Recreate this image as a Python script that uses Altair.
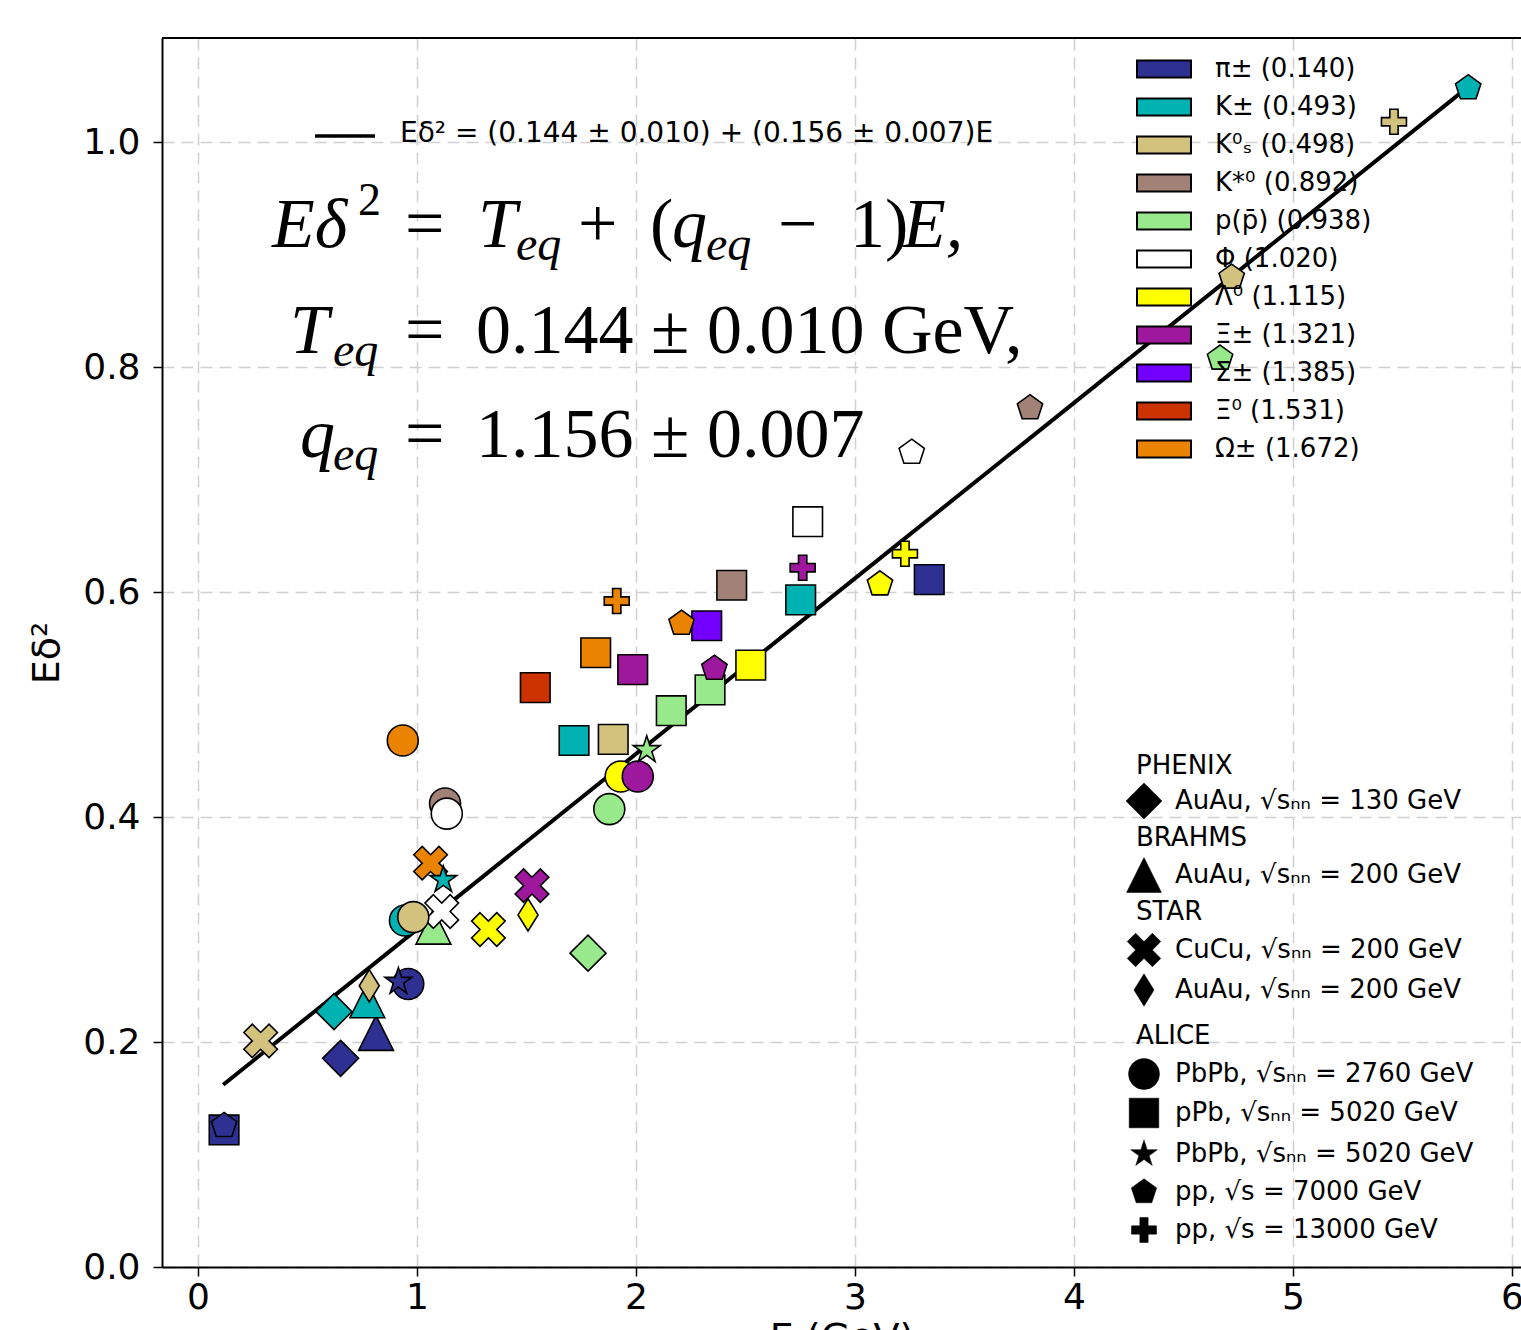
import math
import altair as alt
import pandas as pd

# ---------------- categories ----------------
particle_labels = ["π± (0.140)", "K± (0.493)", "K⁰ₛ (0.498)", "K*⁰ (0.892)",
                   "p(p̄) (0.938)", "Φ (1.020)", "Λ⁰ (1.115)", "Ξ± (1.321)",
                   "Σ± (1.385)", "Ξ⁰ (1.531)", "Ω± (1.672)"]
particle_colors = ["#2e3192", "#00b2b2", "#d2c27e", "#a28276", "#98e98b", "#ffffff",
                   "#ffff00", "#9e189e", "#7300ff", "#cc3300", "#e98300"]
PI, KPM, K0S, KST, PRO, PHI, LAM, XI, SIG, XI0, OM = particle_labels

exp_names = ["PHENIX AuAu 130", "BRAHMS AuAu 200", "STAR CuCu 200", "STAR AuAu 200",
             "ALICE PbPb 2760", "ALICE pPb 5020", "ALICE PbPb 5020", "ALICE pp 7000",
             "ALICE pp 13000"]

# ---------------- data (E in GeV, E*delta^2) ----------------
phenix_p = [PI, KPM, PRO]
phenix_E = [0.651, 0.621, 1.781]
phenix_Ed2 = [0.1855, 0.227, 0.279]

brahms_p = [PI, KPM, PRO]
brahms_E = [0.813, 0.773, 1.075]
brahms_Ed2 = [0.208, 0.237, 0.3025]

starcu_p = [K0S, PHI, LAM, XI, OM]
starcu_E = [0.286, 1.113, 1.326, 1.525, 1.062]
starcu_Ed2 = [0.201, 0.316, 0.300, 0.339, 0.359]

starau_p = [K0S, LAM]
starau_E = [0.782, 1.507]
starau_Ed2 = [0.250, 0.313]

pbpb2760_p = [PI, KPM, K0S, KST, PRO, PHI, LAM, XI, OM]
pbpb2760_E = [0.960, 0.945, 0.983, 1.128, 1.878, 1.136, 1.930, 2.008, 0.935]
pbpb2760_Ed2 = [0.2516, 0.308, 0.311, 0.412, 0.407, 0.403, 0.436, 0.436, 0.468]

ppb_p = [PI, PI, KPM, KPM, K0S, KST, PRO, PRO, PHI, LAM, XI, SIG, XI0, OM]
ppb_E = [0.119, 3.339, 1.717, 2.752, 1.896, 2.437, 2.161, 2.338, 2.784, 2.524, 1.985,
         2.323, 1.540, 1.816]
ppb_Ed2 = [0.1218, 0.611, 0.468, 0.593, 0.469, 0.606, 0.4945, 0.513, 0.6625, 0.535,
           0.531, 0.570, 0.515, 0.546]

pbpb5020_p = [PI, KPM, PRO]
pbpb5020_E = [0.915, 1.120, 2.049]
pbpb5020_Ed2 = [0.2536, 0.344, 0.4596]

pp7000_p = [PI, KPM, K0S, KST, PRO, PHI, LAM, XI, OM]
pp7000_E = [0.119, 5.800, 4.720, 3.799, 4.667, 3.259, 3.114, 2.358, 2.208]
pp7000_Ed2 = [0.1256, 1.048, 0.8797, 0.7636, 0.8077, 0.724, 0.607, 0.532, 0.572]

pp13000_p = [K0S, LAM, XI, OM]
pp13000_E = [5.461, 3.228, 2.761, 1.912]
pp13000_Ed2 = [1.018, 0.634, 0.6216, 0.592]

fit_E = [0.115, 5.80]
fit_Ed2 = [0.162, 1.049]

shape_headers = ["PHENIX", "BRAHMS", "STAR", "ALICE"]
shape_labels = ["AuAu, √sₙₙ = 130 GeV", "AuAu, √sₙₙ = 200 GeV", "CuCu, √sₙₙ = 200 GeV",
                "AuAu, √sₙₙ = 200 GeV", "PbPb, √sₙₙ = 2760 GeV", "pPb, √sₙₙ = 5020 GeV",
                "PbPb, √sₙₙ = 5020 GeV", "pp, √s = 7000 GeV", "pp, √s = 13000 GeV"]
fit_label = "Eδ² = (0.144 ± 0.010) + (0.156 ± 0.007)E"

# ---------------- assemble table ----------------
groups = [
    (phenix_p, phenix_E, phenix_Ed2), (brahms_p, brahms_E, brahms_Ed2),
    (starcu_p, starcu_E, starcu_Ed2), (starau_p, starau_E, starau_Ed2),
    (pbpb2760_p, pbpb2760_E, pbpb2760_Ed2), (ppb_p, ppb_E, ppb_Ed2),
    (pbpb5020_p, pbpb5020_E, pbpb5020_Ed2), (pp7000_p, pp7000_E, pp7000_Ed2),
    (pp13000_p, pp13000_E, pp13000_Ed2),
]
rows = []
for name, (ps, es, ds) in zip(exp_names, groups):
    for p, e, d in zip(ps, es, ds):
        rows.append({"exp": name, "particle": p, "E": e, "Ed2": d, "order": len(rows)})
df = pd.DataFrame(rows)

# ---------------- styles / layout ----------------
W, H = 1359, 1229
LEFT, TOP = 162, 38
XMIN = -0.1644
XMAX = XMIN + W / 219.0
YMIN = 0.0
YMAX = H / 1125.0


def px_x(a):
    return XMIN + (a - LEFT) / W * (XMAX - XMIN)


def px_y(a):
    return YMAX - (a - TOP) / H * (YMAX - YMIN)


star_pts = []
for k in range(10):
    r = 1.0 if k % 2 == 0 else 0.382
    ang = math.radians(-90 + 36 * k)
    star_pts.append((r * math.cos(ang), r * math.sin(ang)))
STAR = "M" + "L".join(f"{x:.3f},{y:.3f}" for x, y in star_pts) + "Z"
pent_pts = []
for k in range(5):
    ang = math.radians(-90 + 72 * k)
    pent_pts.append((math.cos(ang), math.sin(ang)))
PENT = "M" + "L".join(f"{x:.3f},{y:.3f}" for x, y in pent_pts) + "Z"
DIAM = "M-1,0L0,-1L1,0L0,1Z"
TRI = "M0,-1L1,1L-1,1Z"
XSHAPE = "M-0.5,-1L0,-0.5L0.5,-1L1,-0.5L0.5,0L1,0.5L0.5,1L0,0.5L-0.5,1L-1,0.5L-0.5,0L-1,-0.5Z"
THIN = "M0,-1L0.62,0L0,1L-0.62,0Z"
PLUS = ("M-0.333,-1L0.333,-1L0.333,-0.333L1,-0.333L1,0.333L0.333,0.333L0.333,1"
        "L-0.333,1L-0.333,0.333L-1,0.333L-1,-0.333L-0.333,-0.333Z")
shape_range = [DIAM, TRI, XSHAPE, THIN, "circle", "square", STAR, PENT, PLUS]
size_range = [1296, 625, 529, 1089, 625, 576, 535, 635, 729]

xscale = alt.Scale(domain=[XMIN, XMAX], nice=False, zero=False)
yscale = alt.Scale(domain=[YMIN, YMAX], nice=False, zero=False)
shape_scale = alt.Scale(domain=exp_names, range=shape_range)
size_scale = alt.Scale(domain=exp_names, range=size_range)
GRID = "#d0d0d0"
FONT = "DejaVu Sans"
SERIF = "Liberation Serif"

x_axis = alt.Axis(values=[0, 1, 2, 3, 4, 5, 6], format="d", labelFont=FONT, labelFontSize=36,
                  labelColor="black", tickColor="black", tickSize=9, tickWidth=1.5,
                  domainColor="black", domainWidth=2, gridColor=GRID, gridDash=[12, 7],
                  gridWidth=1.5, title="E (GeV)", titleFont=FONT, titleFontSize=38,
                  titleFontWeight="normal", titleColor="black", titlePadding=4,
                  labelPadding=4, labelFlush=False, labelOverlap=False)
y_axis = alt.Axis(values=[0.0, 0.2, 0.4, 0.6, 0.8, 1.0], format=".1f", labelFont=FONT,
                  labelFontSize=36, labelColor="black", tickColor="black", tickSize=9,
                  tickWidth=1.5, domainColor="black", domainWidth=2, gridColor=GRID,
                  gridDash=[12, 7], gridWidth=1.5, title="Eδ²", titleFont=FONT,
                  titleFontSize=38, titleFontWeight="normal", titleColor="black",
                  titlePadding=16, labelPadding=13, labelFlush=False, labelOverlap=False)


def X(f):
    return alt.X(f, type="quantitative", scale=xscale, axis=x_axis)


def Y(f):
    return alt.Y(f, type="quantitative", scale=yscale, axis=y_axis)


RECT = "M-1.6,-0.5H1.6V0.5H-1.6Z"

# ---------------- layers ----------------
fit = alt.Chart(pd.DataFrame({"E": fit_E, "Ed2": fit_Ed2})).mark_line(
    color="black", strokeWidth=4).encode(x=X("E"), y=Y("Ed2"))

points = alt.Chart(df).mark_point(filled=True, stroke="black", strokeWidth=1.6,
                                  opacity=1).encode(
    x=X("E"),
    y=Y("Ed2"),
    fill=alt.Fill("particle:N", scale=alt.Scale(domain=particle_labels, range=particle_colors),
                  legend=alt.Legend(title=None, orient="none", legendX=984, legendY=13,
                                    symbolType=RECT, symbolSize=1139,
                                    symbolStrokeColor="black", symbolStrokeWidth=2,
                                    symbolOpacity=1, labelFont=FONT, labelFontSize=26,
                                    labelColor="black", labelOffset=33, rowPadding=7,
                                    padding=0, labelLimit=400)),
    shape=alt.Shape("exp:N", scale=shape_scale, legend=None),
    size=alt.Size("exp:N", scale=size_scale, legend=None),
    order=alt.Order("order:Q"),
)

# top frame line
top_frame = alt.Chart(pd.DataFrame({"a": [0]})).mark_rule(
    color="black", strokeWidth=2).encode(x=alt.value(0), x2=alt.value(W), y=alt.value(0))

# fit legend
fit_leg_line = alt.Chart(pd.DataFrame({"x": [px_x(315)], "x2": [px_x(375)],
                                       "y": [px_y(136)]})).mark_rule(
    color="black", strokeWidth=3.5).encode(x=X("x"), x2="x2:Q", y=Y("y"))
fit_leg_text = alt.Chart(pd.DataFrame({"x": [px_x(400)], "y": [px_y(134)],
                                       "t": [fit_label]})).mark_text(
    align="left", baseline="middle", font=FONT, fontSize=28, color="black").encode(
    x=X("x"), y=Y("y"), text="t:N")

# shape legend
header_y = [766, 838, 912, 1036]
entry_y = [801, 875, 950, 990, 1074, 1113, 1154, 1192, 1230]
hdr = pd.DataFrame({"x": [px_x(1136)] * 4, "y": [px_y(v) for v in header_y],
                    "t": shape_headers})
lab = pd.DataFrame({"x": [px_x(1175)] * 9, "y": [px_y(v) for v in entry_y],
                    "t": shape_labels})
sym = pd.DataFrame({"x": [px_x(1144)] * 9, "y": [px_y(v) for v in entry_y],
                    "exp": exp_names})
shape_text = alt.Chart(pd.concat([hdr, lab])).mark_text(
    align="left", baseline="middle", font=FONT, fontSize=26, color="black").encode(
    x=X("x"), y=Y("y"), text="t:N")
shape_syms = alt.Chart(sym).mark_point(filled=True, fill="black", stroke="black",
                                       strokeWidth=0.5, opacity=1).encode(
    x=X("x"), y=Y("y"),
    shape=alt.Shape("exp:N", scale=shape_scale, legend=None),
    size=alt.Size("exp:N", scale=size_scale, legend=None))

# big formula text (segments: text, x, baseline y)
big_normal = [("=", 405, 247), ("+", 578, 247), ("(", 650, 247), ("−", 778, 247),
              ("1)", 850, 247), ("=", 405, 353), ("0.144 ± 0.010 GeV,", 476, 353),
              ("=", 405, 457), ("1.156 ± 0.007", 476, 457)]
big_italic = [("Eδ", 272, 247), ("T", 478, 247), ("q", 672, 247), ("E,", 903, 247),
              ("T", 290, 353), ("q", 300, 457)]
sub_italic = [("eq", 516, 260), ("eq", 706, 260), ("eq", 333, 366), ("eq", 333, 470)]
sup_normal = [("2", 358, 215)]


def seg_df(segs):
    return pd.DataFrame({"t": [s[0] for s in segs], "x": [px_x(s[1]) for s in segs],
                         "y": [px_y(s[2]) for s in segs]})


def seg_layer(segs, size, style):
    return alt.Chart(seg_df(segs)).mark_text(
        align="left", baseline="alphabetic", font=SERIF, fontSize=size, fontStyle=style,
        color="black").encode(x=X("x"), y=Y("y"), text="t:N")


formula = [seg_layer(big_normal, 70, "normal"), seg_layer(big_italic, 70, "italic"),
           seg_layer(sub_italic, 48, "italic"), seg_layer(sup_normal, 46, "normal")]

chart = alt.layer(fit, points, top_frame, fit_leg_line, fit_leg_text, shape_text,
                  shape_syms, *formula).properties(
    width=W, height=H,
    autosize=alt.AutoSizeParams(type="none"),
    padding={"left": LEFT, "top": TOP, "right": 0, "bottom": 63},
    background="white",
).configure_view(stroke=None)

chart.save("out.html", embed_options={"renderer": "svg", "actions": False})
